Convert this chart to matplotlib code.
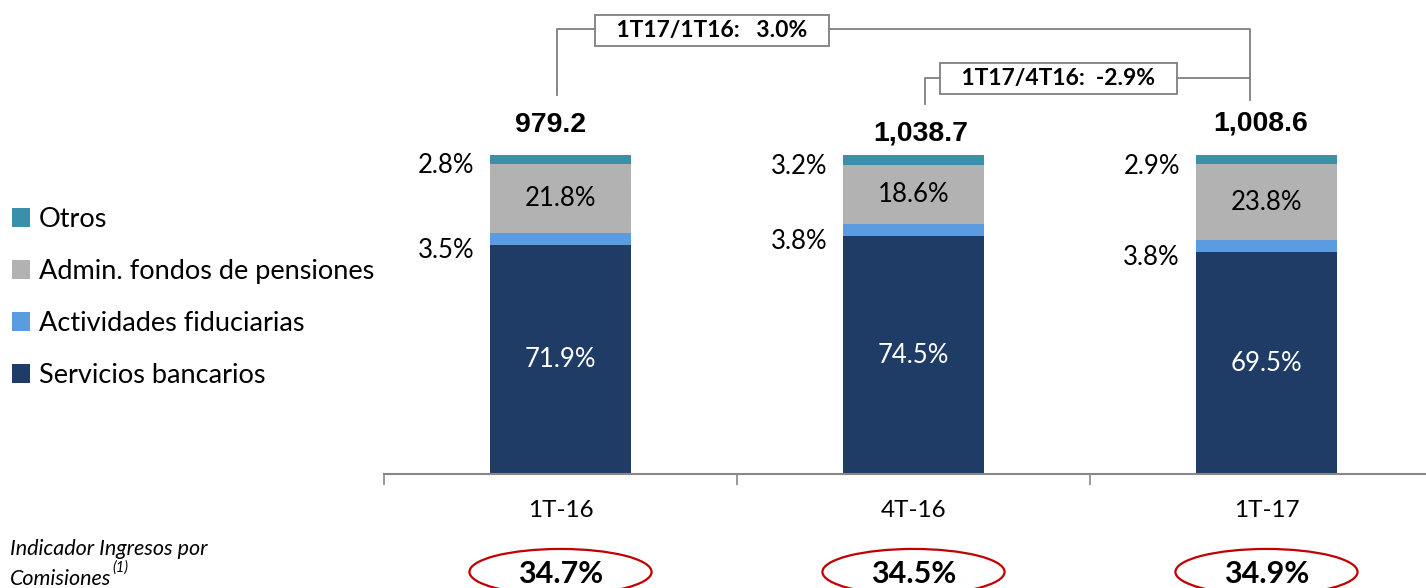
import matplotlib.pyplot as plt
import numpy as np
from matplotlib.patches import Ellipse

plt.rcParams["font.family"] = ["Lato", "DejaVu Sans"]

# Composition of commission income by quarter (% of total)
quarters = ["1T-16", "4T-16", "1T-17"]
servicios = [71.9, 74.5, 69.5]
fiduciarias = [3.5, 3.8, 3.8]
pensiones = [21.8, 18.6, 23.8]
otros = [2.8, 3.2, 2.9]
totals = ["979.2", "1,038.7", "1,008.6"]
indicador = ["34.7%", "34.5%", "34.9%"]
growth_labels = ["1T17/1T16:   3.0%", "1T17/4T16:  -2.9%"]

series = [
    ("Servicios bancarios", servicios, "#1F3C66"),
    ("Actividades fiduciarias", fiduciarias, "#5B9BE0"),
    ("Admin. fondos de pensiones", pensiones, "#B2B2B2"),
    ("Otros", otros, "#3A8FA9"),
]

fig = plt.figure(figsize=(14.26, 5.88), dpi=100)
ax = fig.add_axes([0.2693, 0.1939, 0.7426, 0.8061])

x = np.arange(len(quarters))
width = 0.40
bottom = np.zeros(len(quarters))
handles = []
for name, vals, color in series:
    vals = np.array(vals)
    bars = ax.bar(x, vals, width, bottom=bottom, color=color, label=name, linewidth=0)
    handles.append(bars)
    centers = bottom + vals / 2
    for i, v in enumerate(vals):
        txt = f"{v:.1f}%"
        if name == "Servicios bancarios":
            ax.text(x[i], centers[i], txt, ha="center", va="center", color="white", fontsize=18.5)
        elif name == "Admin. fondos de pensiones":
            ax.text(x[i], centers[i], txt, ha="center", va="center", color="black", fontsize=18.5)
        else:
            shift = 2.0 if name == "Otros" else 3.5
            ax.text(x[i] - width / 2 - 0.045, centers[i] - shift, txt, ha="right", va="center",
                    color="black", fontsize=18.5)
    bottom = bottom + vals

# totals above each bar
total_y = [109.4, 106.9, 109.8]
total_dx = [-0.028, 0.021, -0.016]
for i, t in enumerate(totals):
    ax.text(x[i] + total_dx[i], total_y[i], t, ha="center", va="center", fontsize=20.5,
            fontweight="bold", family="Liberation Sans")

ax.set_xlim(-0.5, 2.5)
ax.set_ylim(0, 148.6)
for s in ["top", "right", "left"]:
    ax.spines[s].set_visible(False)
ax.spines["bottom"].set_color("#878787")
ax.spines["bottom"].set_linewidth(1.5)
ax.set_yticks([])
ax.set_xticks([-0.5, 0.5, 1.5, 2.5])
ax.set_xticklabels([])
ax.tick_params(axis="x", which="major", length=8, width=1.2, color="#878787")
ax.set_xticks(x, minor=True)
ax.set_xticklabels(quarters, minor=True, fontsize=17.5)
ax.tick_params(axis="x", which="minor", length=0, pad=19)

# growth brackets
line_kw = dict(color="#7F7F7F", lw=1.3, clip_on=False)
ax.plot([-0.01, -0.01, 1.953, 1.953], [118.8, 139.5, 139.5, 117.2], **line_kw)
ax.plot([1.033, 1.033, 1.953], [116.0, 124.1, 124.1], **line_kw)
box_kw = dict(boxstyle="square,pad=0.22", fc="white", ec="#7F7F7F", lw=1.3)
ax.text(0.429, 139.0, "   " + growth_labels[0] + "   ", ha="center", va="center",
        fontsize=16.5, fontweight="bold", bbox=box_kw)
ax.text(1.411, 124.1, "   " + growth_labels[1] + "   ", ha="center", va="center",
        fontsize=16.5, fontweight="bold", bbox=box_kw)

# commission income indicator
for i, v in enumerate(indicador):
    ax.add_patch(Ellipse((x[i], -30.7), 0.516, 14.4, fill=False, ec="#C00000", lw=1.6,
                         clip_on=False))
    ax.text(x[i], -31.3, v, ha="center", va="center", fontsize=22, fontweight="bold",
            clip_on=False)

fig.text(10 / 1426, 1 - 549 / 588, "Indicador Ingresos por", ha="left", va="center",
         fontsize=15.5, style="italic")
com = fig.text(10 / 1426, 1 - 579 / 588, "Comisiones", ha="left", va="center",
               fontsize=15.5, style="italic")
ax.annotate("(1)", xy=(1, 0.72), xycoords=com, xytext=(1, 0), textcoords="offset points",
            ha="left", va="bottom", fontsize=10.5, style="italic")

fig.legend(handles[::-1], [s[0] for s in series][::-1], loc="upper left",
           bbox_to_anchor=(12 / 1426, 1 - 207 / 588), frameon=False, fontsize=19.5,
           handlelength=0.68, handleheight=0.68, handletextpad=0.3, labelspacing=1.0,
           borderpad=0, borderaxespad=0)

fig.savefig("out.png", dpi=100)
